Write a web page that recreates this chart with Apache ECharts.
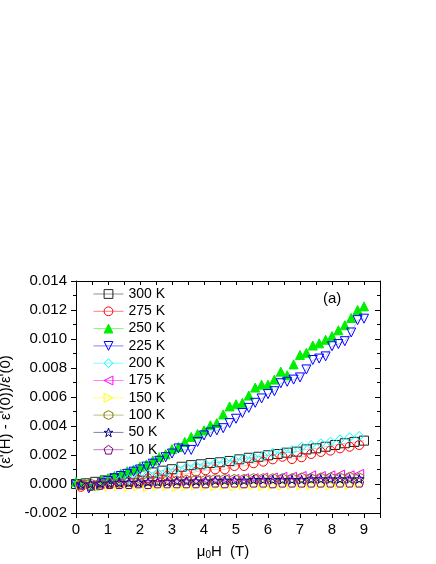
<!DOCTYPE html>
<html>
<head>
<meta charset="utf-8">
<script src="https://cdn.jsdelivr.net/npm/echarts@6/dist/echarts.min.js"></script>
<style>
  html, body { margin: 0; padding: 0; background: #fff; }
  #chart { width: 436px; height: 564px; }
</style>
</head>
<body>
<div id="chart"></div>
<script>
// field values (T)
const xStep02 = [0, 0.2, 0.4, 0.6, 0.8, 1.0, 1.2, 1.4, 1.6, 1.8, 2.0, 2.2, 2.4, 2.6, 2.8, 3.0,
  3.2, 3.4, 3.6, 3.8, 4.0, 4.2, 4.4, 4.6, 4.8, 5.0, 5.2, 5.4, 5.6, 5.8, 6.0, 6.2, 6.4, 6.6,
  6.8, 7.0, 7.2, 7.4, 7.6, 7.8, 8.0, 8.2, 8.4, 8.6, 8.8, 9.0]
const xStep03 = [0, 0.3, 0.6, 0.9, 1.2, 1.5, 1.8, 2.1, 2.4, 2.7, 3.0, 3.3, 3.6, 3.9, 4.2, 4.5,
  4.8, 5.1, 5.4, 5.7, 6.0, 6.3, 6.6, 6.9, 7.2, 7.5, 7.8, 8.1, 8.4, 8.7, 9.0]
const xShift03 = [0.15, 0.45, 0.75, 1.05, 1.35, 1.65, 1.95, 2.25, 2.55, 2.85, 3.15, 3.45, 3.75,
  4.05, 4.35, 4.65, 4.95, 5.25, 5.55, 5.85, 6.15, 6.45, 6.75, 7.05, 7.35, 7.65, 7.95, 8.25,
  8.55, 8.85]

// (ε'(H) - ε'(0))/ε'(0) per temperature
const y300 = [0.00000, 0.00005, 0.00015, 0.00025, 0.00035, 0.00050, 0.00070, 0.00085, 0.00080,
  0.00092, 0.00102, 0.00119, 0.00130, 0.00136, 0.00145, 0.00150, 0.00159, 0.00170, 0.00181,
  0.00188, 0.00198, 0.00207, 0.00216, 0.00223, 0.00239, 0.00246, 0.00257, 0.00269, 0.00281,
  0.00290, 0.00299]
const y275 = [-0.00020, -0.00015, -0.00005, 0.00005, 0.00009, 0.00016, 0.00028, 0.00039,
  0.00046, 0.00055, 0.00069, 0.00069, 0.00085, 0.00095, 0.00101, 0.00101, 0.00124, 0.00124,
  0.00143, 0.00154, 0.00170, 0.00188, 0.00172, 0.00184, 0.00207, 0.00221, 0.00230, 0.00246,
  0.00257, 0.00269]
const y250 = [0.00016, 0.00010, 0.00000, -0.00010, 0.00028, 0.00040, 0.00055, 0.00070, 0.00088,
  0.00100, 0.00120, 0.00135, 0.00162, 0.00185, 0.00205, 0.00240, 0.00255, 0.00290, 0.00325,
  0.00345, 0.00370, 0.00405, 0.00420, 0.00480, 0.00535, 0.00550, 0.00560, 0.00610, 0.00665,
  0.00685, 0.00685, 0.00720, 0.00775, 0.00750, 0.00825, 0.00890, 0.00905, 0.00955, 0.00970,
  0.00995, 0.01020, 0.01060, 0.01095, 0.01145, 0.01200, 0.01225]
const y225 = [-0.00005, -0.00010, -0.00030, -0.00015, 0.00005, 0.00020, 0.00040, 0.00055,
  0.00070, 0.00085, 0.00100, 0.00120, 0.00140, 0.00160, 0.00185, 0.00210, 0.00245, 0.00235,
  0.00235, 0.00290, 0.00335, 0.00355, 0.00370, 0.00385, 0.00420, 0.00450, 0.00490, 0.00525,
  0.00560, 0.00590, 0.00620, 0.00640, 0.00695, 0.00705, 0.00720, 0.00735, 0.00790, 0.00855,
  0.00865, 0.00880, 0.00950, 0.00965, 0.00985, 0.01045, 0.01130, 0.01140]
const y200 = [0.00000, -0.00010, 0.00000, 0.00015, 0.00025, 0.00035, 0.00050, 0.00065, 0.00075,
  0.00090, 0.00105, 0.00115, 0.00125, 0.00135, 0.00145, 0.00155, 0.00165, 0.00175, 0.00185,
  0.00195, 0.00215, 0.00223, 0.00234, 0.00257, 0.00269, 0.00280, 0.00292, 0.00308, 0.00322,
  0.00331]
const y175 = [0.00000, -0.00005, 0.00000, 0.00005, 0.00005, 0.00010, 0.00010, 0.00015, 0.00015,
  0.00020, 0.00020, 0.00025, 0.00025, 0.00030, 0.00030, 0.00035, 0.00035, 0.00040, 0.00040,
  0.00045, 0.00045, 0.00050, 0.00050, 0.00055, 0.00060, 0.00055, 0.00060, 0.00065, 0.00060,
  0.00070]
const y150 = [-0.00005, -0.00010, -0.00015, -0.00020, -0.00015, -0.00020, -0.00015, -0.00020,
  -0.00015, -0.00015, -0.00020, -0.00015, -0.00010, -0.00015, -0.00015, -0.00010, -0.00015,
  -0.00010, -0.00010, -0.00015, -0.00010, -0.00010, -0.00005, -0.00010, -0.00010, -0.00005,
  -0.00010, -0.00005, -0.00005, 0.00000]
const y100 = [0.00000, 0.00005, 0.00005, 0.00010, 0.00010, 0.00015, 0.00015, 0.00020, 0.00020,
  0.00025, 0.00025, 0.00030, 0.00030, 0.00030, 0.00035, 0.00035, 0.00035, 0.00035, 0.00040,
  0.00040, 0.00040, 0.00040, 0.00040, 0.00045, 0.00040, 0.00045, 0.00045, 0.00045, 0.00050,
  0.00045]
const y50 = [0.00000, 0.00000, 0.00005, 0.00005, 0.00010, 0.00010, 0.00010, 0.00015, 0.00015,
  0.00015, 0.00020, 0.00020, 0.00020, 0.00020, 0.00025, 0.00025, 0.00025, 0.00025, 0.00030,
  0.00030, 0.00030, 0.00030, 0.00030, 0.00030, 0.00035, 0.00035, 0.00035, 0.00035, 0.00035,
  0.00035]
const y10 = [-0.00005, -0.00010, -0.00005, 0.00000, 0.00000, 0.00000, 0.00005, 0.00000, 0.00005,
  0.00005, 0.00005, 0.00005, 0.00005, 0.00005, 0.00010, 0.00005, 0.00010, 0.00005, 0.00010,
  0.00010, 0.00005, 0.00010, 0.00010, 0.00010, 0.00010, 0.00010, 0.00010, 0.00010, 0.00010,
  0.00010]

const FONT = '"Liberation Sans", Arial, sans-serif'

// marker shapes not built into echarts
const SYM = {
  down: 'path://M0,0 L10,0 L5,9 Z',
  left: 'path://M0,5 L9,0 L9,10 Z',
  right: 'path://M0,0 L9,5 L0,10 Z',
  hexagon: 'path://M5,0 L9.33,2.5 L9.33,7.5 L5,10 L0.67,7.5 L0.67,2.5 Z',
  star: 'path://M5,0 L6.2,3.6 L10,3.6 L6.9,5.8 L8.1,9.5 L5,7.2 L1.9,9.5 L3.1,5.8 L0,3.6 L3.8,3.6 Z',
  pentagon: 'path://M5,0 L10,3.6 L8.1,9.5 L1.9,9.5 L0,3.6 Z',
}

const seriesDefs = [
  { name: '300 K', x: xStep03, y: y300, color: '#222222', symbol: 'rect' },
  { name: '275 K', x: xShift03, y: y275, color: '#ff0000', symbol: 'circle' },
  { name: '250 K', x: xStep02, y: y250, color: '#00ee00', symbol: 'triangle', filled: true },
  { name: '225 K', x: xStep02, y: y225, color: '#0000ff', symbol: SYM.down },
  { name: '200 K', x: xShift03, y: y200, color: '#00ffff', symbol: 'diamond' },
  { name: '175 K', x: xShift03, y: y175, color: '#ff00ff', symbol: SYM.left },
  { name: '150 K', x: xShift03, y: y150, color: '#ffff00', symbol: SYM.right },
  { name: '100 K', x: xShift03, y: y100, color: '#808000', symbol: SYM.hexagon },
  { name: '50 K', x: xShift03, y: y50, color: '#000080', symbol: SYM.star },
  { name: '10 K', x: xShift03, y: y10, color: '#800080', symbol: SYM.pentagon },
]

const series = seriesDefs.map((d) => ({
  type: 'line',
  name: d.name,
  data: d.x.map((x, i) => [x, d.y[i]]),
  symbol: d.symbol,
  symbolSize: 9,
  showAllSymbol: true,
  lineStyle: { color: d.color, width: 0.6, opacity: 0.4 },
  itemStyle: {
    color: d.filled ? d.color : 'rgba(255,255,255,0)',
    borderColor: d.color,
    borderWidth: 1,
  },
  emphasis: { disabled: true },
}))

const black = { color: '#000', width: 1 }

const option = {
  animation: false,
  backgroundColor: '#fff',
  grid: { left: 76, right: 56, top: 281, bottom: 51, outerBoundsMode: 'none' },
  legend: {
    orient: 'vertical',
    left: 93,
    top: 286,
    padding: 0,
    itemWidth: 30,
    itemHeight: 11,
    itemGap: 1.3,
    selectedMode: false,
    itemStyle: { borderWidth: 1 },
    lineStyle: { width: 1, opacity: 0.5 },
    textStyle: { fontFamily: FONT, fontSize: 14, color: '#000', lineHeight: 16 },
    data: seriesDefs.map((d) => d.name),
  },
  xAxis: [
    {
      type: 'value',
      position: 'bottom',
      min: 0,
      max: 9.5,
      interval: 1,
      axisLine: { onZero: false, lineStyle: black },
      axisTick: { length: 5, lineStyle: black },
      minorTick: { show: true, splitNumber: 2, length: 3, lineStyle: black },
      splitLine: { show: false },
      axisLabel: {
        fontFamily: FONT, fontSize: 15, color: '#000', margin: 9,
        formatter: (v) => (Number.isInteger(v) ? String(v) : ''),
      },
      name: '{m|μ}{s|0}{m|H  (T)}',
      nameLocation: 'middle',
      nameGap: 30,
      nameTextStyle: {
        padding: [0, 10, 0, 0],
        rich: {
          m: { fontFamily: FONT, fontSize: 15, color: '#000', lineHeight: 17 },
          s: { fontFamily: FONT, fontSize: 10, color: '#000', verticalAlign: 'bottom', lineHeight: 11 },
        },
      },
    },
    {
      type: 'value',
      position: 'top',
      min: 0,
      max: 9.5,
      interval: 0.5,
      axisLine: { onZero: false, lineStyle: black },
      axisTick: { inside: true, length: 4, lineStyle: black },
      splitLine: { show: false },
      axisLabel: { show: false },
    },
  ],
  yAxis: [
    {
      type: 'value',
      position: 'left',
      min: -0.002,
      max: 0.014,
      interval: 0.002,
      axisLine: { show: true, onZero: false, lineStyle: black },
      axisTick: { show: true, length: 5, lineStyle: black },
      minorTick: { show: true, splitNumber: 2, length: 3, lineStyle: black },
      splitLine: { show: false },
      axisLabel: {
        fontFamily: FONT, fontSize: 15, color: '#000', margin: 9,
        formatter: (v) => v.toFixed(3),
      },
      name: "(ε'(H) - ε'(0))/ε'(0)",
      nameLocation: 'middle',
      nameGap: 52,
      nameTextStyle: { fontFamily: FONT, fontSize: 15, color: '#000', padding: [0, 30, 0, 0] },
    },
    {
      type: 'value',
      position: 'right',
      min: -0.002,
      max: 0.014,
      interval: 0.002,
      axisLine: { show: true, onZero: false, lineStyle: black },
      axisTick: { show: true, inside: true, length: 5, lineStyle: black },
      minorTick: { show: true, splitNumber: 2, length: 3, lineStyle: black },
      splitLine: { show: false },
      axisLabel: { show: false },
    },
  ],
  graphic: [
    {
      type: 'text',
      left: 323,
      top: 291,
      style: { text: '(a)', font: '15px ' + FONT, fill: '#000' },
    },
  ],
  series: series,
}

const chart = echarts.init(document.getElementById('chart'))
chart.setOption(option)
</script>
</body>
</html>
